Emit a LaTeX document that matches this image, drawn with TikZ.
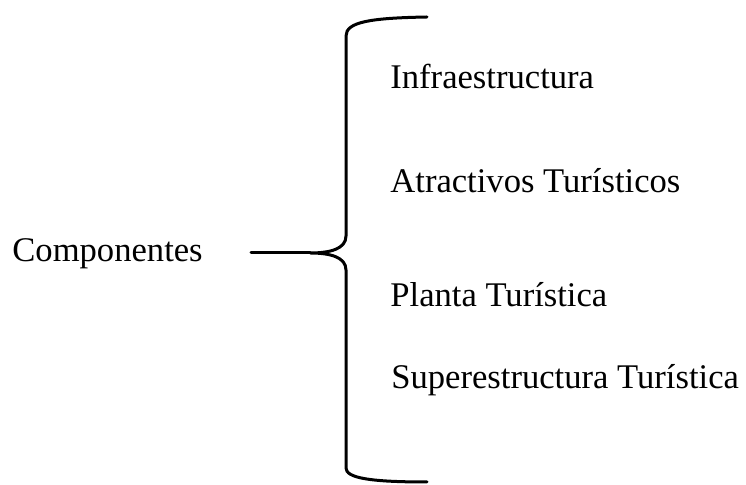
\documentclass[tikz,border=0pt]{standalone}
\usepackage{fontspec}
\setmainfont{Liberation Serif}

\tikzset{
  item/.style={anchor=base west, inner sep=0pt, font=\fontsize{17.3}{20}\selectfont},
  brace/.style={line width=1.5pt, line cap=round}
}

\begin{document}
\begin{tikzpicture}[x=0.5pt, y=-0.5pt]
\useasboundingbox (0, 0) rectangle (746, 485);

\node[item] (comp) at (12, 262) {Componentes};

\node[item] (infra) at (390, 89) {Infraestructura};
\node[item] (atrac) at (390, 193) {Atractivos Turísticos};
\node[item] (planta) at (390, 307) {Planta Turística};
\node[item] (super) at (391, 389) {Superestructura Turística};

\coordinate (lead) at (251, 253);
\coordinate (tip) at (310, 253);
\coordinate (top) at (427, 17);
\coordinate (bot) at (427, 482);

\draw[brace] (lead) -- (tip);
\draw[brace] (top) .. controls (370, 18) and (346, 22) .. (346, 36)
  -- (346, 236) .. controls (346, 249) and (330, 253) .. (tip)
  .. controls (330, 253) and (346, 257) .. (346, 270)
  -- (346, 468) .. controls (346, 478) and (370, 482) .. (bot);
\end{tikzpicture}
\end{document}
